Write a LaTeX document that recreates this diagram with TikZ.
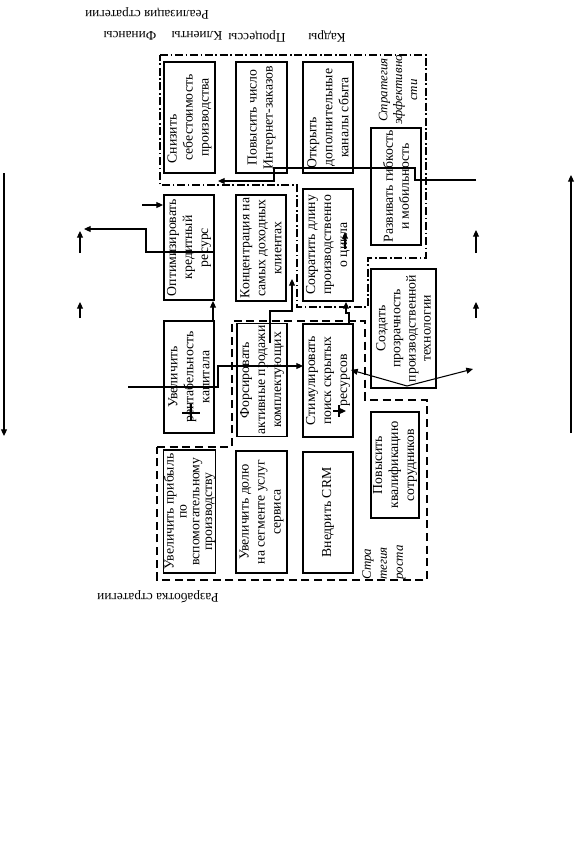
\documentclass[tikz,border=0pt]{standalone}
\usepackage{fontspec}
\setmainfont{Liberation Serif}
\usetikzlibrary{arrows.meta}
\begin{document}
\begin{tikzpicture}[x=0.75pt,y=-0.75pt,
  box/.style={draw, line width=0.8pt, rotate=90, inner sep=1.5pt, font=\fontsize{10.3}{12}\selectfont, align=center},
  grpA/.style={line width=0.8pt, dash pattern=on 6pt off 2pt on 1.2pt off 2pt},
  grpC/.style={line width=0.8pt, dash pattern=on 6pt off 3.5pt},
  conn/.style={line width=0.8pt},
  arr/.style={conn, -{Triangle[length=5pt,width=4.5pt]}},
  lbl/.style={font=\fontsize{10}{12}\selectfont, rotate=180, inner sep=0pt},
  glbl/.style={font=\fontsize{9.7}{11.2}\selectfont\itshape, rotate=90, inner sep=0pt}]

\useasboundingbox (0,0) rectangle (575,851);

% ---- titles (upside down)
\node[lbl] (real) at (147,13) {Реализация стратегии};
\node[lbl] (kadry) at (327,36) {Кадры};
\node[lbl] (proc) at (257,36) {Процессы};
\node[lbl] (klient) at (197,36) {Клиенты};
\node[lbl] (fin) at (130,36) {Финансы};
\node[lbl] (razr) at (158,597) {Разработка стратегии};

% ---- groups
\draw[grpA] (160,55) -- (426,55) -- (426,258) -- (368,258) -- (368,307) -- (297,307) -- (297,185) -- (160,185) -- cycle;
\draw[grpC] (157,447) -- (232,447) -- (232,321) -- (365,321) -- (365,400) -- (427,400) -- (427,580) -- (157,580) -- cycle;

\node[glbl, align=center] (gA) at (398,90) {Стратегия\\эффективно\\сти};
\node[glbl, align=left, anchor=west, font=\fontsize{9.7}{12}\selectfont\itshape] (gC) at (384,580) {Стра\\тегия\\роста};

% ---- boxes, column 1
\node[box, minimum width=83.25pt, minimum height=38.25pt] (snizit) at (189.5,117.5) {\makebox[69pt][l]{Снизить}\\себестоимость\\производства};
\node[box, minimum width=78.75pt, minimum height=37.5pt] (optim) at (189,247.5) {Оптимизировать\\кредитный\\ресурс};
\node[box, minimum width=84pt, minimum height=37.5pt] (rent) at (189,377) {Увеличить\\рентабельность\\капитала};
\node[box, minimum width=92.25pt, minimum height=38.25pt, inner sep=0.3pt, font=\fontsize{10.3}{9.6}\selectfont] (pribyl) at (189.5,511.5) {Увеличить прибыль\\по\\вспомогательному\\производству};

% ---- column 2
\node[box, minimum width=83.25pt, minimum height=38.25pt] (povys) at (261.5,117.5) {Повысить число\\Интернет-заказов};
\node[box, minimum width=79.5pt, minimum height=37.5pt] (konc) at (261,248) {Концентрация на\\самых доходных\\клиентах};
\node[box, minimum width=84pt, minimum height=37.5pt] (fors) at (262,380) {Форсировать\\активные продажи\\комплектующих};
\node[box, minimum width=91.5pt, minimum height=38.25pt] (dolya) at (261.5,512) {Увеличить долю\\на сегменте услуг\\сервиса};

% ---- column 3
\node[box, minimum width=83.25pt, minimum height=37.5pt] (otkr) at (328,117.5) {\makebox[76pt][l]{Открыть}\\дополнительные\\каналы сбыта};
\node[box, minimum width=84pt, minimum height=37.5pt] (sokr) at (328,245) {Сократить длину\\производственно\\о цикла};
\node[box, minimum width=84.75pt, minimum height=37.5pt] (stim) at (328,380.5) {Стимулировать\\поиск скрытых\\ресурсов};
\node[box, minimum width=90.75pt, minimum height=37.5pt] (crm) at (328,512.5) {Внедрить CRM};

% ---- column 4
\node[box, minimum width=87.75pt, minimum height=37.5pt] (razv) at (396,186.5) {Развивать гибкость\\и мобильность};
\node[box, minimum width=89.25pt, minimum height=48.75pt, font=\fontsize{10.3}{11.3}\selectfont] (sozd) at (403.5,328.5) {Создать\\прозрачность\\производственной\\технологии};
\node[box, minimum width=79.5pt, minimum height=36pt] (kval) at (395,465) {Повысить\\квалификацию\\сотрудников};

% ---- connectors
\coordinate (L1s) at (4,173);   \coordinate (L1e) at (4,436);
\coordinate (R1s) at (571,433); \coordinate (R1e) at (571,175);
\coordinate (la1s) at (80,253); \coordinate (la1e) at (80,231);
\coordinate (la2s) at (80,318); \coordinate (la2e) at (80,302);
\coordinate (ra1s) at (476,253); \coordinate (ra1e) at (476,230);
\coordinate (ra2s) at (476,318); \coordinate (ra2e) at (476,302);
\draw[arr] (L1s) -- (L1e);
\draw[arr] (R1s) -- (R1e);
\draw[arr] (la1s) -- (la1e);
\draw[arr] (la2s) -- (la2e);
\draw[arr] (ra1s) -- (ra1e);
\draw[arr] (ra2s) -- (ra2e);

\coordinate (optimR) at (214,252); \coordinate (leftTip) at (84,229);
\draw[arr] (optimR) -- (146,252) -- (146,229) -- (leftTip);

\coordinate (inA) at (142,205); \coordinate (optimIn) at (163,205);
\draw[arr] (inA) -- (optimIn);

\coordinate (rentTop) at (213,321); \coordinate (optimBot) at (213,301);
\draw[arr] (rentTop) -- (optimBot);

\coordinate (capIn) at (128,387); \coordinate (stimIn) at (303,366);
\draw[arr] (capIn) -- (218,387) -- (218,366) -- (stimIn);

\coordinate (forsOut) at (270,343); \coordinate (koncIn) at (292,279);
\draw[arr] (forsOut) -- (270,311) -- (292,311) -- (koncIn);

\coordinate (stimOut) at (349,324); \coordinate (sokrIn) at (346,302);
\draw[arr] (stimOut) -- (349,313) -- (346,313) -- (sokrIn);

\coordinate (sokrA) at (345,249); \coordinate (sokrB) at (345,232);
\draw[arr] (sokrA) -- (sokrB);

\coordinate (stimA) at (333,411); \coordinate (stimB) at (346,411);
\draw[arr] (stimA) -- (stimB);
\coordinate (tickA) at (339,405); \coordinate (tickB) at (339,417);
\draw[conn] (tickA) -- (tickB);

\coordinate (sozdV) at (407,386); \coordinate (stimR) at (351,370); \coordinate (rightTip) at (473,369);
\draw[arr] (sozdV) -- (stimR);
\draw[arr] (sozdV) -- (rightTip);

\coordinate (rightIn) at (476,180); \coordinate (snizOut) at (218,181);
\draw[arr] (rightIn) -- (415,180) -- (415,168) -- (274,168) -- (274,181) -- (snizOut);

\coordinate (crossA) at (182,413); \coordinate (crossB) at (200,413);
\coordinate (crossC) at (191,404); \coordinate (crossD) at (191,421);
\draw[conn] (crossA) -- (crossB);
\draw[conn] (crossC) -- (crossD);
\end{tikzpicture}
\end{document}
